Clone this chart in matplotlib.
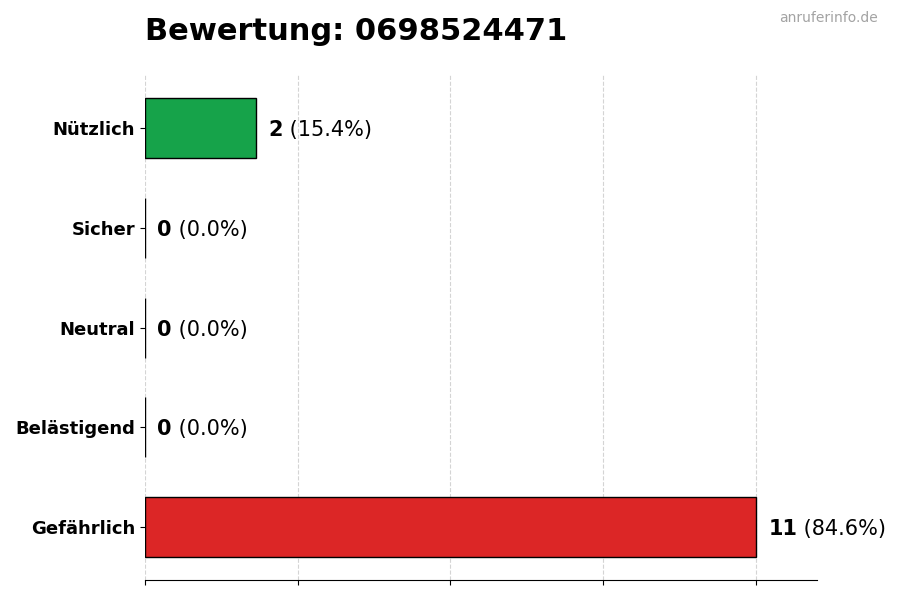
import matplotlib
matplotlib.use('Agg')
import matplotlib.pyplot as plt
import numpy as np

# Daten
kategorien = ['Nützlich', 'Sicher', 'Neutral', 'Belästigend', 'Gefährlich']
anzahl = [2, 0, 0, 0, 11]
farben = ['#16a34a', '#9ca3af', '#6b7280', '#f97316', '#dc2626']
nummer = '0698524471'

gesamt = sum(anzahl)
prozent = [a / gesamt * 100 for a in anzahl]
max_wert = max(anzahl)

fig = plt.figure(figsize=(9, 6), dpi=100)
ax = fig.add_axes([0.161, 0.033, 0.747, 0.842])

y = np.arange(len(kategorien))[::-1]
ax.barh(y, anzahl, height=0.6, color=farben, edgecolor='black', linewidth=1, zorder=2)

ax.set_xlim(0, max_wert * 1.1)
ax.set_xticks(np.linspace(0, max_wert, 5))
ax.set_xticklabels([])
ax.set_yticks(y)
ax.set_yticklabels(kategorien, fontsize=13, fontweight='bold')
ax.grid(axis='x', linestyle='--', color='#d4d4d4', linewidth=0.8, zorder=0)
ax.set_axisbelow(True)

for s in ['top', 'right', 'left']:
    ax.spines[s].set_visible(False)

# Werte neben den Balken
for yi, a, p in zip(y, anzahl, prozent):
    t = ax.text(a + max_wert * 0.02, yi, str(a), fontsize=15, fontweight='bold',
                va='center_baseline', ha='left')
    ax.annotate(f' ({p:.1f}%)', xy=(1, 0), xycoords=t, va='bottom', ha='left',
                fontsize=15)

ax.set_title(f'Bewertung: {nummer}', loc='left', fontsize=22, fontweight='bold', pad=25)
fig.text(0.975, 0.982, 'anruferinfo.de', ha='right', va='top', fontsize=10, color='#a3a3a3')

plt.savefig('out.png', dpi=100)
